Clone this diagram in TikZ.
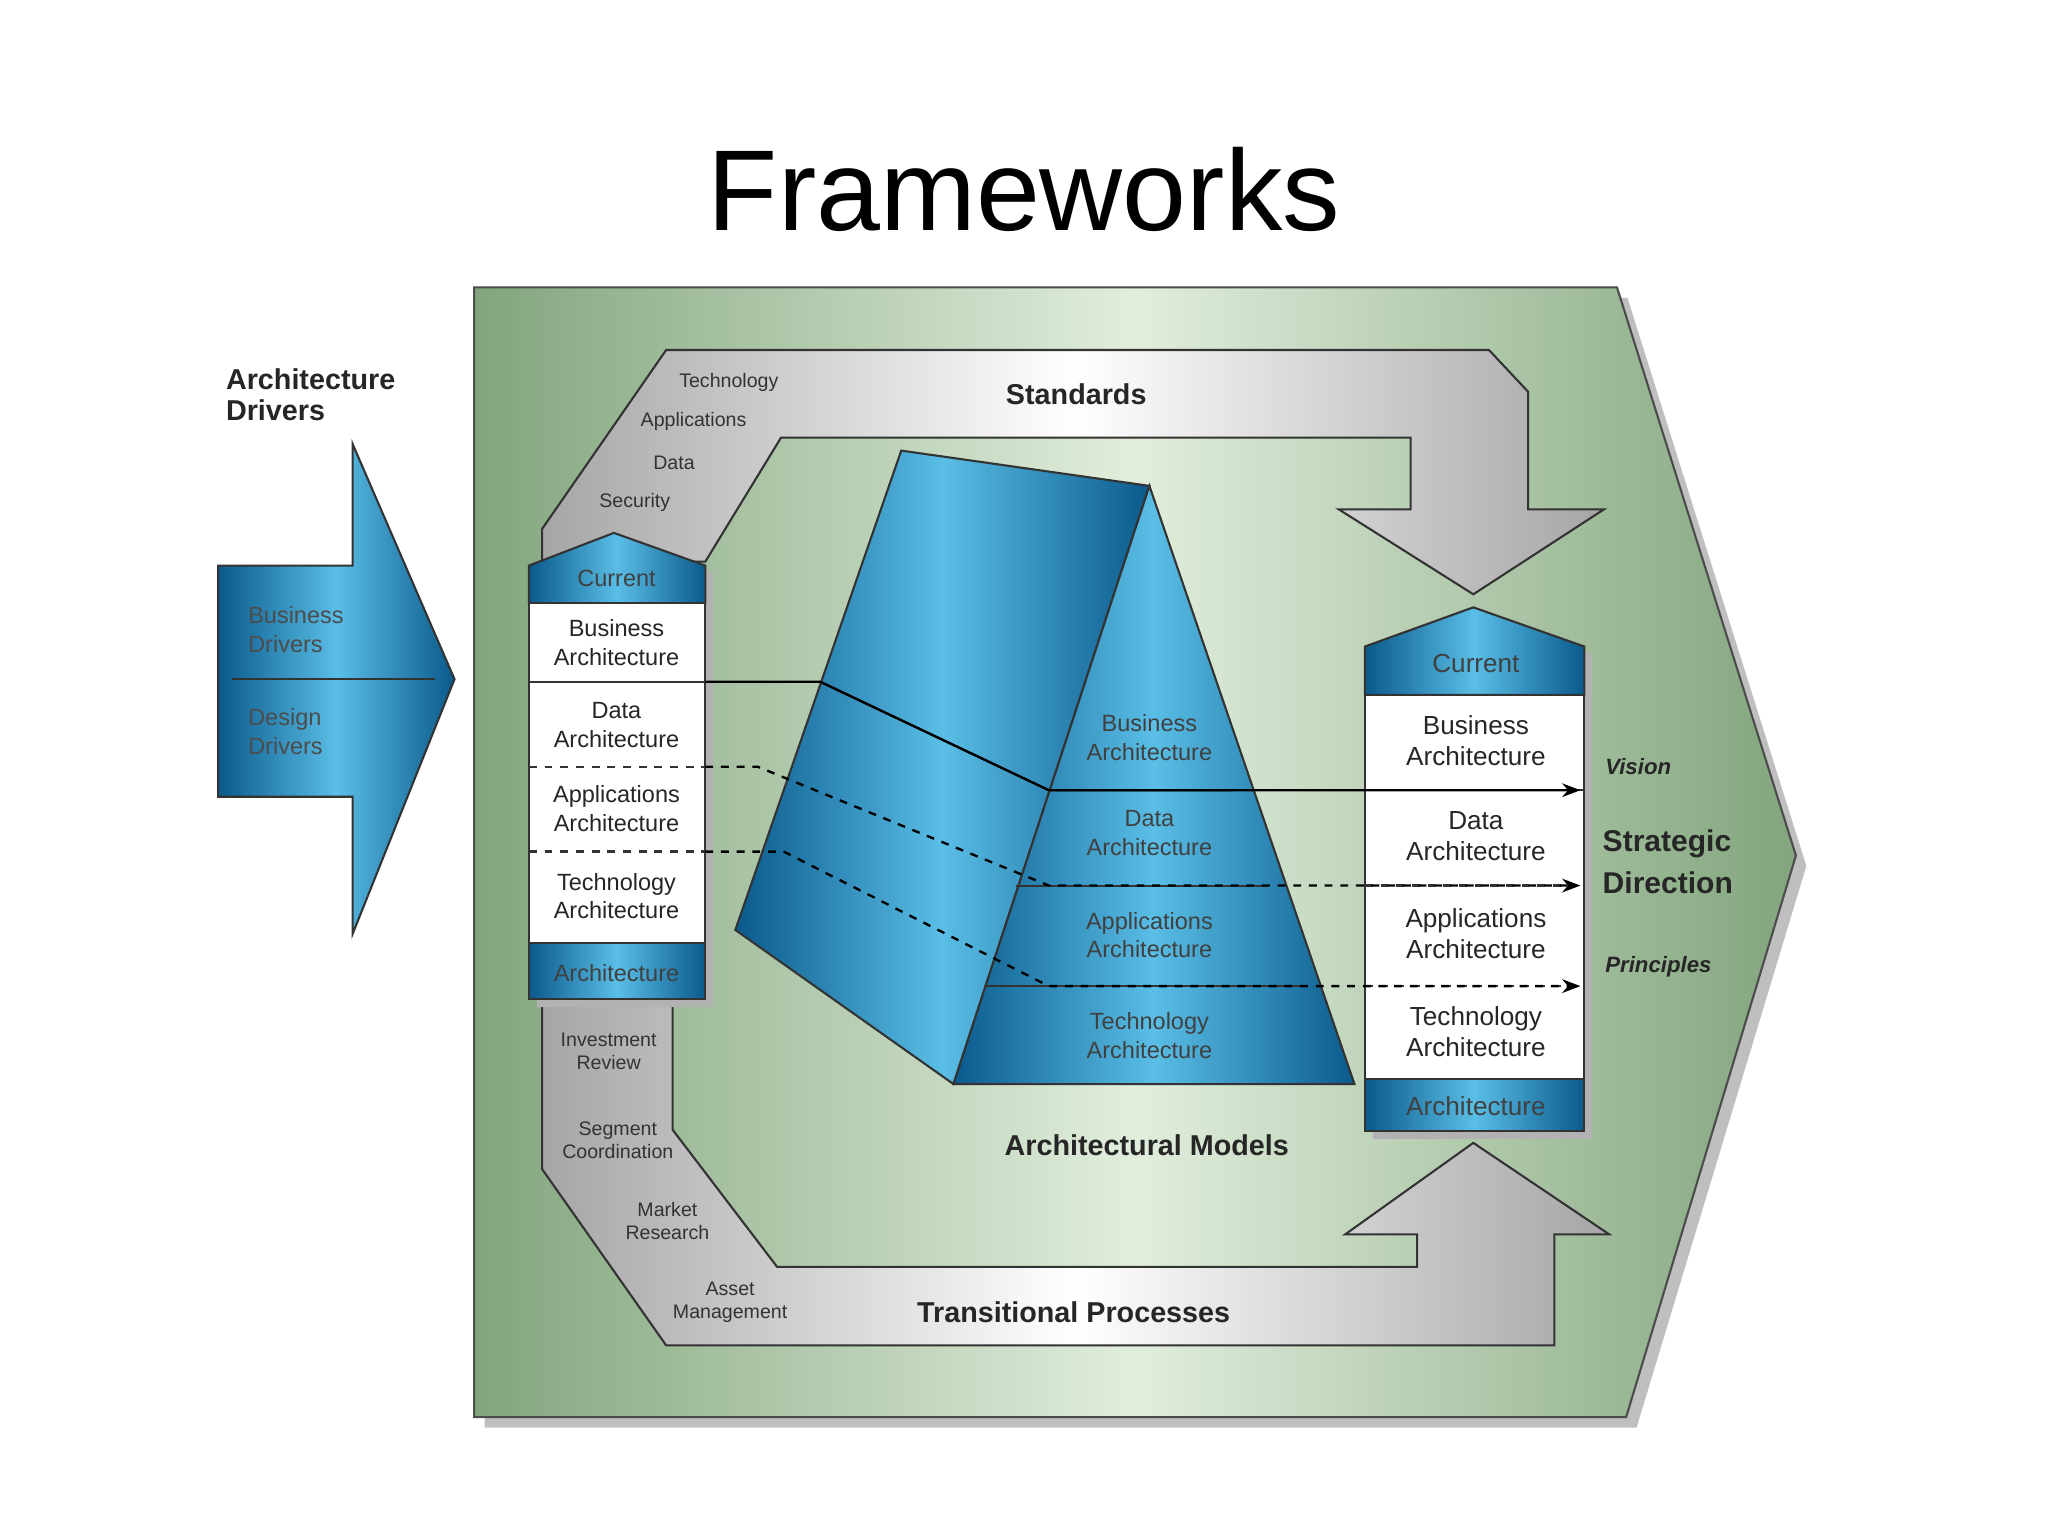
\documentclass[tikz,border=0pt]{standalone}
\usepackage{fontspec}
\setmainfont{Liberation Sans}
\usetikzlibrary{arrows.meta}
\definecolor{bl}{RGB}{25,135,190}
\definecolor{bld}{RGB}{10,90,140}
\definecolor{bll}{RGB}{90,190,230}
\definecolor{gr}{RGB}{130,165,125}
\definecolor{grl}{RGB}{225,238,220}
\begin{document}
\begin{tikzpicture}[x=0.5pt,y=-0.5pt,
  blue/.style={left color=bld,right color=bld,middle color=bll,draw=black!80,line width=0.8pt},
  silver/.style={left color=black!35,right color=black!35,middle color=white,draw=black!80,line width=0.8pt},
  wbox/.style={fill=white,draw=black!80,line width=0.8pt},
  lab/.style={font=\bfseries\fontsize{11}{12}\selectfont,text=black!85,align=center},
  sm/.style={font=\fontsize{7.5}{9}\selectfont,text=black!80,align=center},
  col/.style={font=\fontsize{9}{11}\selectfont,text=black!85,align=center},
  wcol/.style={font=\fontsize{9}{11}\selectfont,text=black!75,align=center},
  link/.style={line width=0.9pt,-{Stealth[length=7pt]}}]
\useasboundingbox (0,0) rectangle (1568,1176);
\fill[white] (0,0) rectangle (1568,1176);
\node[font=\fontsize{44}{48}\selectfont] (title) at (784,145) {Frameworks};
% green panel
\fill[black!25] (371,228)--(1246,228)--(1383,663)--(1253,1093)--(371,1093)--cycle;
\path[left color=gr,right color=gr,middle color=grl,draw=black!70,line width=0.8pt]
  (363,220)--(1238,220)--(1375,655)--(1245,1085)--(363,1085)--cycle;
% drivers
\node[lab,anchor=north west,align=left] (ad) at (166,275) {Architecture\\Drivers};
\path[blue] (167,433)--(270,433)--(270,340)--(348,520)--(270,715)--(270,610)--(167,610)--cycle;
\draw[black!80,line width=0.8pt] (178,520)--(333,520);
\node[wcol,anchor=west,align=left,text=black!70] (bd) at (183,482) {Business\\Drivers};
\node[wcol,anchor=west,align=left,text=black!70] (dd) at (183,560) {Design\\Drivers};
% standards band
\path[silver] (415,430)--(415,405)--(510,268)--(1140,268)--(1170,300)--(1170,390)--(1228,390)--(1128,455)--(1025,390)--(1080,390)--(1080,335)--(598,335)--(540,430)--cycle;
\node[lab] (std) at (824,302) {Standards};
\node[sm] (s1) at (558,293) {Technology};
\node[sm] (s2) at (531,323) {Applications};
\node[sm] (s3) at (516,354) {Data};
\node[sm] (s4) at (486,385) {Security};
% transitional band
\path[silver] (415,765)--(415,895)--(510,1030)--(1190,1030)--(1190,945)--(1232,945)--(1128,875)--(1030,945)--(1085,945)--(1085,970)--(595,970)--(515,865)--(515,765)--cycle;
\node[lab] (tp) at (822,1005) {Transitional Processes};
\node[sm] (t1) at (466,805) {Investment\\Review};
\node[sm] (t2) at (473,873) {Segment\\Coordination};
\node[sm] (t3) at (511,935) {Market\\Research};
\node[sm] (t4) at (559,997) {Asset\\Management};
% prism
\path[blue] (690,345)--(880,372)--(730,830)--(563,712)--cycle;
\path[blue] (880,372)--(1037,830)--(730,830)--cycle;
\draw[black!80,line width=0.8pt] (628,522)--(803,605)--(944,605);
\draw[black!80,line width=0.8pt] (778,678)--(970,678) (753,755)--(997,755);
\node[wcol] (m1) at (880,565) {Business\\Architecture};
\node[wcol] (m2) at (880,638) {Data\\Architecture};
\node[wcol] (m3) at (880,716) {Applications\\Architecture};
\node[wcol] (m4) at (880,793) {Technology\\Architecture};
\node[lab] (am) at (878,877) {Architectural Models};
% left column
\fill[black!30] (411,439)--(476,414)--(546,439)--(546,771)--(411,771)--cycle;
\path[blue] (405,433)--(470,408)--(540,433)--(540,462)--(405,462)--cycle;
\path[wbox] (405,462) rectangle (540,722);
\path[blue] (405,722) rectangle (540,765);
\draw[black!80,line width=0.8pt] (405,522)--(540,522);
\draw[dashed,black!80,line width=0.9pt] (405,587)--(540,587) (405,652)--(540,652);
\node[wcol] (lc) at (472,443) {Current};
\node[col] (l1) at (472,492) {Business\\Architecture};
\node[col] (l2) at (472,555) {Data\\Architecture};
\node[col] (l3) at (472,619) {Applications\\Architecture};
\node[col] (l4) at (472,686) {Technology\\Architecture};
\node[wcol] (la) at (472,745) {Architecture};
% right column
\fill[black!30] (1051,501)--(1134,471)--(1219,501)--(1219,872)--(1051,872)--cycle;
\path[blue] (1045,495)--(1128,465)--(1213,495)--(1213,532)--(1045,532)--cycle;
\path[wbox] (1045,532) rectangle (1213,826);
\path[blue] (1045,826) rectangle (1213,866);
\draw[black!80,line width=0.8pt] (1045,605)--(1213,605);
\draw[dashed,black!80,line width=0.9pt] (1045,678)--(1213,678) (1045,755)--(1213,755);
\node[wcol,font=\fontsize{10}{12}\selectfont] (rc) at (1130,508) {Current};
\node[col,font=\fontsize{10}{12}\selectfont] (r1) at (1130,567) {Business\\Architecture};
\node[col,font=\fontsize{10}{12}\selectfont] (r2) at (1130,640) {Data\\Architecture};
\node[col,font=\fontsize{10}{12}\selectfont] (r3) at (1130,715) {Applications\\Architecture};
\node[col,font=\fontsize{10}{12}\selectfont] (r4) at (1130,790) {Technology\\Architecture};
\node[wcol,font=\fontsize{10}{12}\selectfont] (ra) at (1130,847) {Architecture};
% connectors
\coordinate (a1) at (540,522); \coordinate (b1) at (1210,605);
\coordinate (a2) at (540,587); \coordinate (b2) at (1210,678);
\coordinate (a3) at (540,652); \coordinate (b3) at (1210,755);
\draw[link] (a1)--(628,522)--(803,605)--(b1);
\draw[link,dashed] (a2)--(580,587)--(803,678)--(b2);
\draw[link,dashed] (a3)--(600,652)--(803,755)--(b3);
% right labels
\node[lab,font=\bfseries\itshape\fontsize{8.5}{10}\selectfont,anchor=west] (vi) at (1222,587) {Vision};
\node[lab,anchor=west,align=left,font=\bfseries\fontsize{11.5}{16}\selectfont] (sd) at (1220,660) {Strategic\\Direction};
\node[lab,font=\bfseries\itshape\fontsize{8.5}{10}\selectfont,anchor=west] (pr) at (1222,740) {Principles};
\end{tikzpicture}
\end{document}
